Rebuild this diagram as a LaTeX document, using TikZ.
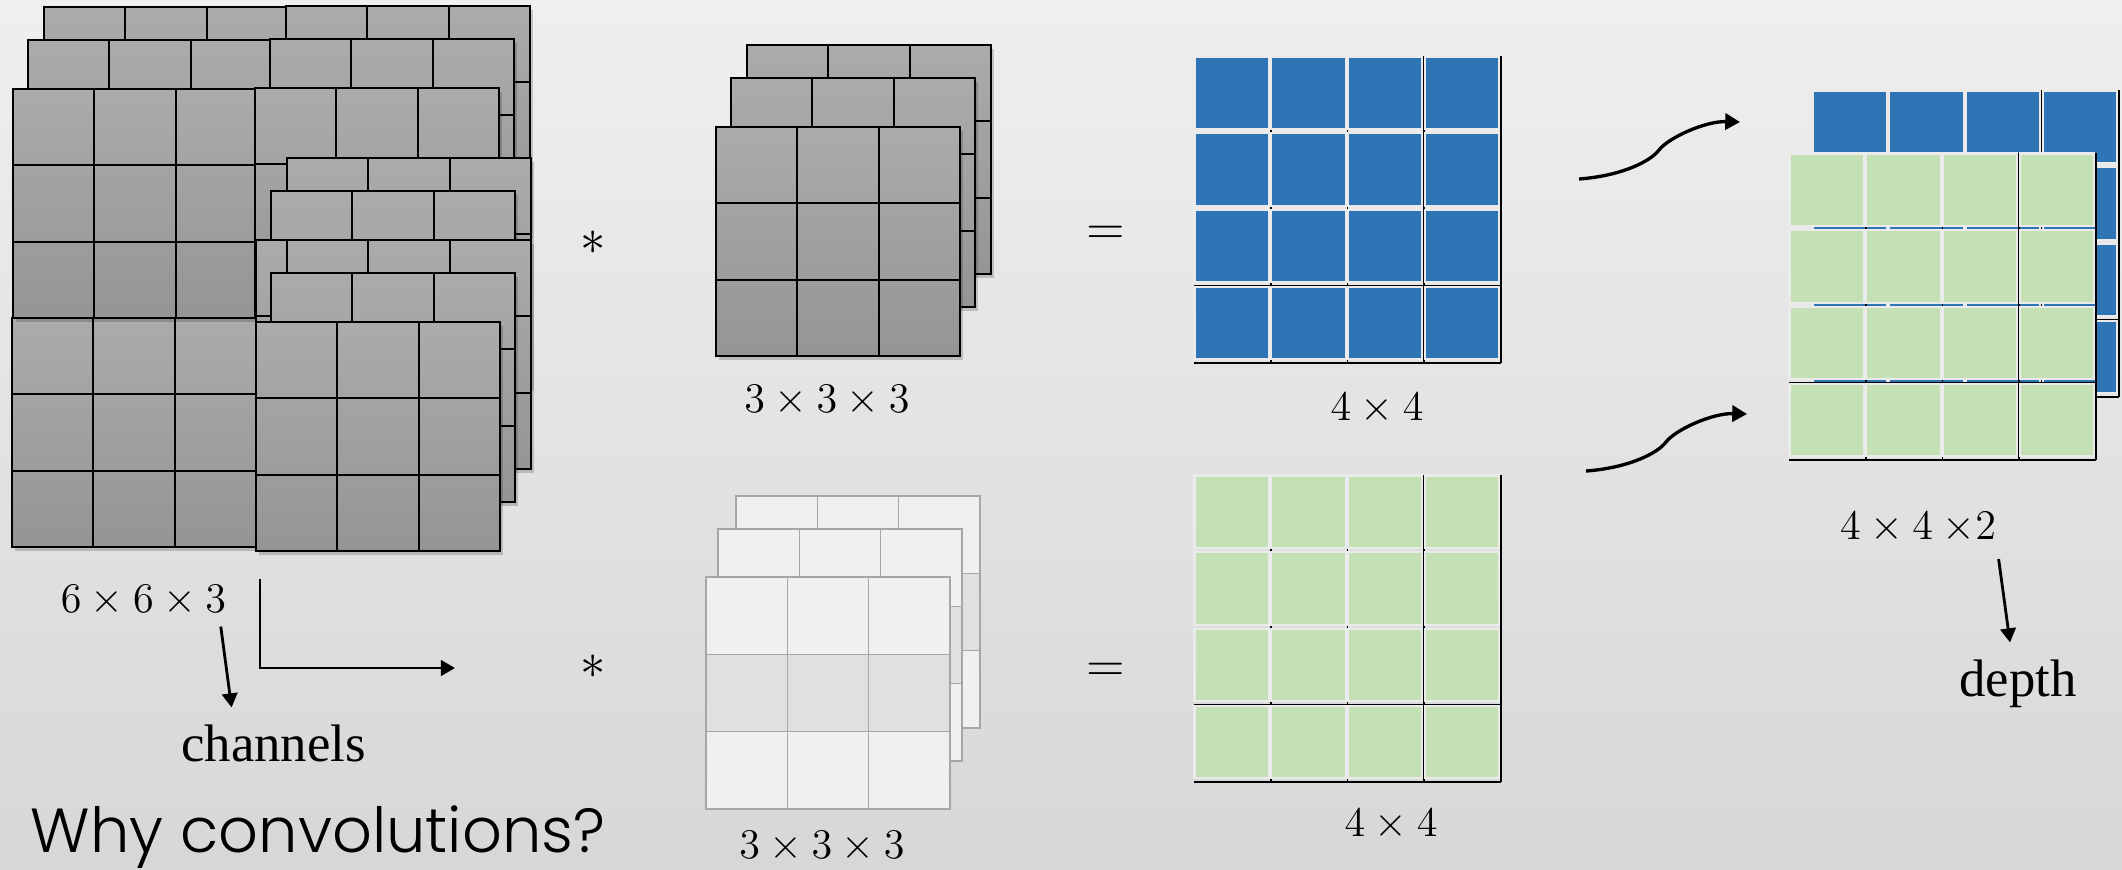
\documentclass[tikz,border=0pt]{standalone}
\usepackage{fontspec}
\usepackage{amsmath}
\usepackage{tikz}
\usetikzlibrary{arrows.meta, positioning, calc}
\newfontfamily\wordfont{Liberation Serif}
\IfFontExistsTF{Poppins Light}
  {\newfontfamily\titlefont{Poppins Light}}
  {\newfontfamily\titlefont{Poppins}}
\definecolor{bgtop}{HTML}{EFEFEF}
\definecolor{bgbot}{HTML}{D7D7D7}
\definecolor{cellA}{HTML}{ABABAB}
\definecolor{cellB}{HTML}{B9B9B9}
\definecolor{cellC}{HTML}{959595}
\definecolor{paleA}{HTML}{F0F0F0}
\definecolor{paleB}{HTML}{E0E0E0}
\definecolor{paleedge}{HTML}{A6A6A6}
\definecolor{outblue}{HTML}{2E75B6}
\definecolor{outgreen}{HTML}{C5E0B4}
\tikzset{
  cellline/.style={draw=black, line width=0.55pt},
  faintline/.style={draw=paleedge, line width=0.45pt},
  layershadow/.style={fill=black, opacity=0.18},
  grayfill/.style={top color=cellA, middle color=cellB, bottom color=cellC},
  tileline/.style={draw=black, line width=0.5pt},
  tile/.style={draw=white!92!black, line width=0.6pt},
  arrow/.style={-{Triangle[length=4pt, width=4.4pt]}, line width=0.8pt},
  curvearrow/.style={-{Triangle[length=4.2pt, width=4.6pt]}, line width=0.95pt},
  dim/.style={font=\fontsize{12}{14}\selectfont, inner sep=0pt},
  op/.style={font=\fontsize{14}{16}\selectfont, inner sep=0pt},
  word/.style={font=\wordfont\fontsize{15}{18}\selectfont, inner sep=0pt},
  title/.style={font=\titlefont\fontsize{17.7}{21}\selectfont, inner sep=0pt}
}
% one gray 3x3 slice
\newcommand{\graylayer}[1]{%
  \begin{scope}[shift={#1}]
    \fill[layershadow] (3,4) rectangle (247,233);
    \shade[grayfill] (0,0) rectangle (244,229);
    \foreach \k in {1,2} {
      \draw[cellline] (\k*244/3,0) -- (\k*244/3,229);
      \draw[cellline] (0,\k*229/3) -- (244,\k*229/3);
    }
    \draw[cellline] (0,0) rectangle (244,229);
  \end{scope}}
% three slices, back to front
\newcommand{\graystack}[1]{%
  \begin{scope}[shift={#1}]
    \graylayer{(31,-82)}
    \graylayer{(15,-49)}
    \graylayer{(0,0)}
  \end{scope}}
\newcommand{\palelayer}[1]{%
  \begin{scope}[shift={#1}]
    \fill[paleA] (0,0) rectangle (244,232);
    \fill[paleB] (0,232/3) rectangle (244,2*232/3);
    \foreach \k in {1,2} {
      \draw[faintline] (\k*244/3,0) -- (\k*244/3,232);
      \draw[faintline] (0,\k*232/3) -- (244,\k*232/3);
    }
    \draw[faintline] (0,0) rectangle (244,232);
  \end{scope}}
% 4x4 output map
\newcommand{\tilegrid}[2]{%
  \begin{scope}[shift={#1}]
    \foreach \k in {1,...,4} {
      \draw[tileline] (0,\k*76.7) -- (306.7,\k*76.7);
      \draw[tileline] (\k*76.7,0) -- (\k*76.7,306.7);
    }
    \foreach \i in {0,...,3}
      \foreach \j in {0,...,3}
        \filldraw[tile, fill=#2] (\i*76.7+0.5,\j*76.7+0.5) rectangle (\i*76.7+75,\j*76.7+73);
  \end{scope}}

\begin{document}
\begin{tikzpicture}[x=0.01cm, y=-0.01cm]
    \useasboundingbox (0,0) rectangle (2122,869);
    \shade[top color=bgtop, bottom color=bgbot] (0,0) rectangle (2122,869);

    % input volume
    \graystack{(12,318)}
    \graystack{(13,89)}
    \graystack{(255,88)}
    \graystack{(256,240)}
    \graystack{(256,322)}

    % filters
    \graystack{(716,127)}
    \palelayer{(736,496)}
    \palelayer{(718,529)}
    \palelayer{(706,577)}

    % outputs
    \tilegrid{(1194,56)}{outblue}
    \tilegrid{(1194,475)}{outgreen}
    \tilegrid{(1812,90)}{outblue}
    \tilegrid{(1789,153)}{outgreen}

    \node[op] (star1) at (593,243) {$\ast$};
    \node[op] (eq1) at (1105.5,235) {$=$};
    \node[op] (star2) at (593,667) {$\ast$};
    \node[op] (eq2) at (1105.5,672) {$=$};

    \node[dim] (inDim) at (143.5,600.5) {$6\times6\times3$};
    \node[dim] (f1Dim) at (827,401) {$3\times3\times3$};
    \node[dim] (f2Dim) at (822,847) {$3\times3\times3$};
    \node[dim] (o1Dim) at (1377,409) {$4\times4$};
    \node[dim] (o2Dim) at (1391,825) {$4\times4$};
    \node[dim] (outDim) at (1918,528) {$4\times4\mskip\medmuskip{\times}2$};
    \node[word, anchor=base] (chan) at (273.6,761.7) {channels};
    \node[word, anchor=base] (depth) at (2018,696.7) {depth};
    \node[title, anchor=base west] (why) at (30,852) {Why convolutions?};

    \coordinate (legTop) at (260,579);
    \coordinate (legCorner) at (260,668);
    \coordinate (legEnd) at (455,668);
    \draw[arrow] (legTop) -- (legCorner) -- (legEnd);
    \draw[arrow] ($(inDim.south east)+(-6,10)$) -- ($(chan.north)+(-42,-17)$);
    \draw[arrow] ($(outDim.south east)+(2,15)$) -- ($(depth.north)+(-8,-17)$);

    \coordinate (blueOut) at (1579,179);
    \coordinate (blueMid) at (1659,150);
    \coordinate (blueIn) at (1740,122);
    \coordinate (greenOut) at (1586,471);
    \coordinate (greenMid) at (1666,442);
    \coordinate (greenIn) at (1747,414);
    \draw[curvearrow] (blueOut) .. controls +(41,-3) and +(-9,12) .. (blueMid)
        .. controls +(9,-12) and +(-35,-1) .. (blueIn);
    \draw[curvearrow] (greenOut) .. controls +(41,-3) and +(-9,12) .. (greenMid)
        .. controls +(9,-12) and +(-35,-1) .. (greenIn);
\end{tikzpicture}
\end{document}
